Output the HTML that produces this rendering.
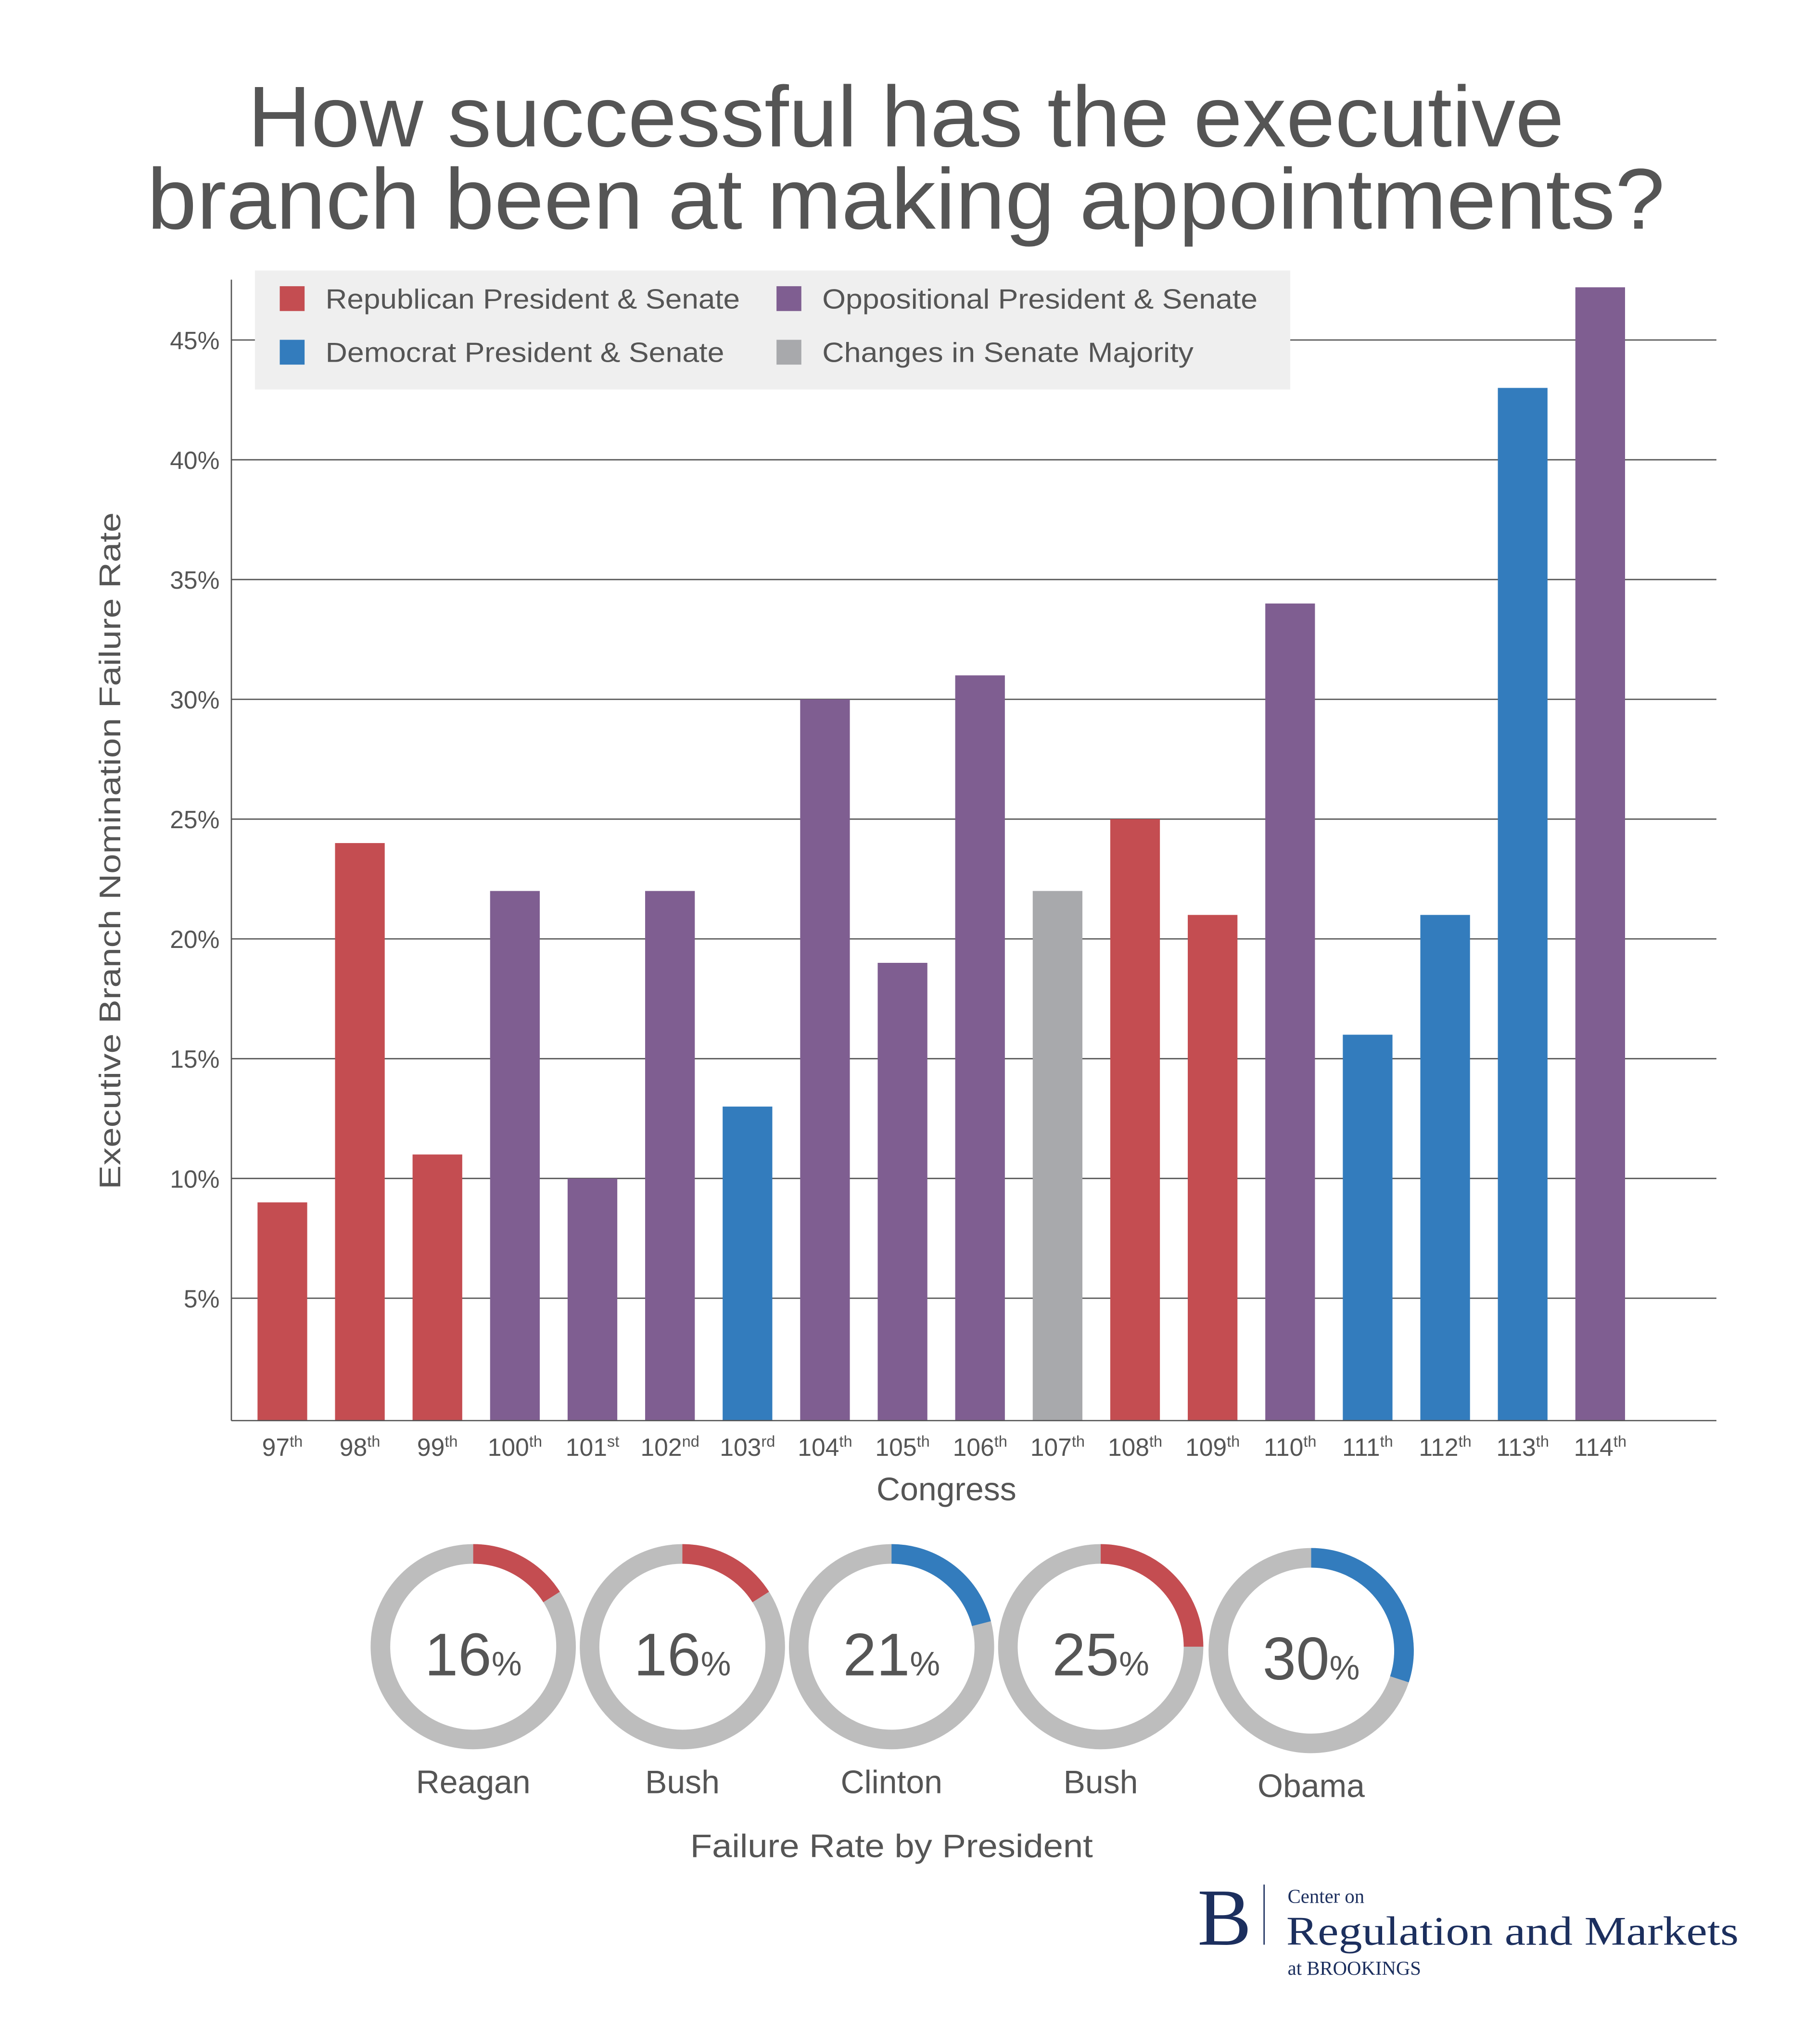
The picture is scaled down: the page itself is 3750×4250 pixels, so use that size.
<!DOCTYPE html>
<html><head><meta charset="utf-8">
<style>
html,body{margin:0;padding:0;background:#fff;}
svg{display:block;}
text{font-family:"Liberation Sans",sans-serif;fill:#555;}
</style></head>
<body>
<svg id="chart" width="3750" height="4250" viewBox="0 0 1380 1564" xmlns="http://www.w3.org/2000/svg">
<rect x="0" y="0" width="1380" height="1564" fill="#fff"/>
<g>
<text x="693" y="112" font-size="66" text-anchor="middle" textLength="1007" lengthAdjust="spacingAndGlyphs">How successful has the executive</text>
<text x="693" y="175" font-size="66" text-anchor="middle" textLength="1161" lengthAdjust="spacingAndGlyphs">branch been at making appointments?</text>
</g>
<g id="grid"></g>
<g id="bars"></g>
<g id="yticks"></g>
<g id="xticks"></g>
<line x1="177" y1="214" x2="177" y2="1087" stroke="#555" stroke-width="1"/>
<line x1="177" y1="1087" x2="1313" y2="1087" stroke="#555" stroke-width="1"/>
<text transform="translate(92,651) rotate(-90)" font-size="23" text-anchor="middle" textLength="518" lengthAdjust="spacingAndGlyphs">Executive Branch Nomination Failure Rate</text>
<text x="724" y="1148" font-size="25" text-anchor="middle">Congress</text>
<g>
<rect x="195" y="207" width="792" height="91" fill="#efefef"/>
<g><rect x="214" y="219" width="19" height="19" fill="#c44d51"/><text x="249" y="236" font-size="21" textLength="317" lengthAdjust="spacingAndGlyphs">Republican President &amp; Senate</text></g>
<g><rect x="214" y="260" width="19" height="19" fill="#337cbd"/><text x="249" y="277" font-size="21" textLength="305" lengthAdjust="spacingAndGlyphs">Democrat President &amp; Senate</text></g>
<g><rect x="594" y="219" width="19" height="19" fill="#7f5e91"/><text x="629" y="236" font-size="21" textLength="333" lengthAdjust="spacingAndGlyphs">Oppositional President &amp; Senate</text></g>
<g><rect x="594" y="260" width="19" height="19" fill="#a8a9ac"/><text x="629" y="277" font-size="21" textLength="284" lengthAdjust="spacingAndGlyphs">Changes in Senate Majority</text></g>
</g>
<g id="donuts"></g>
<text x="682" y="1421" font-size="25" text-anchor="middle" textLength="308" lengthAdjust="spacingAndGlyphs">Failure Rate by President</text>
<g>
<text x="916" y="1488" font-size="62" style="font-family:'Liberation Serif',serif;fill:#1c2f5e">B</text>
<line x1="967" y1="1442" x2="967" y2="1488" stroke="#1c2f5e" stroke-width="1"/>
<text x="985" y="1456" font-size="15" style="font-family:'Liberation Serif',serif;fill:#1c2f5e">Center on</text>
<text x="984" y="1488" font-size="31" style="font-family:'Liberation Serif',serif;fill:#1c2f5e" textLength="346" lengthAdjust="spacingAndGlyphs">Regulation and Markets</text>
<text x="985" y="1511" font-size="15" style="font-family:'Liberation Serif',serif;fill:#1c2f5e">at BROOKINGS</text>
</g>
</svg>
<script>
const congresses = ["97","98","99","100","101","102","103","104","105","106","107","108","109","110","111","112","113","114"];
const suffixes = ["th","th","th","th","st","nd","rd","th","th","th","th","th","th","th","th","th","th","th"];
const failureRates = [9,24,11,22,10,22,13,30,19,31,22,25,21,34,16,21,43,47.2];
const barParty = ["R","R","R","O","O","O","D","O","O","O","C","R","R","O","D","D","D","O"];
const yTicks = [5,10,15,20,25,30,35,40,45];
const presidents = ["Reagan","Bush","Clinton","Bush","Obama"];
const presidentRates = [16,16,21,25,30];
const presidentParty = ["R","R","D","R","D"];

const colors = {R:"#c44d51",D:"#337cbd",O:"#7f5e91",C:"#a8a9ac"};
const NS = "http://www.w3.org/2000/svg";
const y0 = 1085, pxPer = 18.33;
function yScale(v){ return y0 - v*pxPer; }
function xScale(i){ return 216 + i*59.3; }
function mk(tag, attrs, parent){ const e=document.createElementNS(NS,tag); for(const k in attrs) e.setAttribute(k,attrs[k]); parent.appendChild(e); return e; }

const grid=document.getElementById('grid'), yt=document.getElementById('yticks');
yTicks.forEach(v=>{
  const l=mk('line',{x1:177,x2:1313,y1:yScale(v),y2:yScale(v),stroke:'#555','stroke-width':1},grid);
  
  
  const t=mk('text',{x:168,y:yScale(v)+7,'font-size':19,'text-anchor':'end'},yt);
  t.textContent=v+'%';
  
  
});
const bars=document.getElementById('bars'), xt=document.getElementById('xticks');
failureRates.forEach((v,i)=>{
  const r=mk('rect',{x:xScale(i)-19,y:yScale(v),width:38,height:1087-yScale(v),fill:colors[barParty[i]]},bars);
  
  
  const t=mk('text',{x:xScale(i),y:1114,'font-size':19,'text-anchor':'middle'},xt);
  
  
  t.textContent=congresses[i];
  const s=mk('tspan',{'font-size':12,dy:-7},t);
  s.textContent=suffixes[i];
});
const dg=document.getElementById('donuts');
const cxs=[362,522,682,842,1003], cys=[1260,1260,1260,1260,1263];
presidentRates.forEach((p,i)=>{
  const cx=cxs[i], cy=cys[i], r=71;
  const g=mk('g',{},dg);
  
  
  mk('circle',{cx:cx,cy:cy,r:r,fill:'none',stroke:'#bdbdbd','stroke-width':15},g);
  const a=p/100*2*Math.PI;
  const x1=cx, y1=cy-r, x2=cx+r*Math.sin(a), y2=cy-r*Math.cos(a);
  const arc=mk('path',{d:`M${x1},${y1} A${r},${r} 0 ${p>50?1:0} 1 ${x2},${y2}`,fill:'none',stroke:colors[presidentParty[i]],'stroke-width':15},g);
  
  
  const t=mk('text',{x:cx,y:cy+22,'font-size':46,'text-anchor':'middle'},g);
  t.textContent=p;
  const s=mk('tspan',{'font-size':26},t); s.textContent='%';
  const n=mk('text',{x:cx,y:cy+112,'font-size':25,'text-anchor':'middle'},g);
  n.textContent=presidents[i];
});
</script>
</body></html>
